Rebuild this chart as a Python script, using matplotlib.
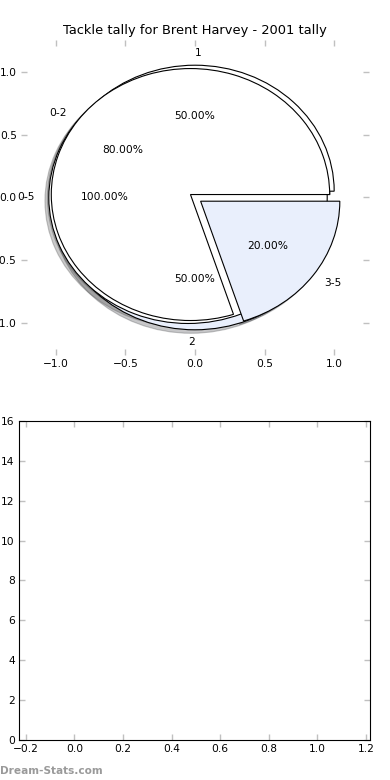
import numpy as np
import matplotlib
matplotlib.use('Agg')
import matplotlib.pyplot as plt

# Tackle breakdowns, one pie each
labels_a = ['1', '2']
values_a = [50, 50]
labels_b = ['0-2', '3-5']
values_b = [80, 20]
labels_c = ['0-5']
values_c = [100]

pie_ticks = [-1.0, -0.5, 0.0, 0.5, 1.0]
bar_yticks = [0, 2, 4, 6, 8, 10, 12, 14, 16]
bar_xticks = [-0.2, 0.0, 0.2, 0.4, 0.6, 0.8, 1.0, 1.2]

title = 'Tackle tally for Brent Harvey - 2001 tally'

plt.rcParams['font.size'] = 7.7
colors = ['white', '#e9effc']
tick_grey = '#c0c0c0'
wedge_style = {'edgecolor': 'black', 'linewidth': 0.8}
shadow_style = {'alpha': 0.3}

fig = plt.figure(figsize=(3.9, 7.8), dpi=100)
ax1 = fig.add_axes([0.0538, 0.5449, 0.8923, 0.4038])
ax2 = fig.add_axes([0.0487, 0.0513, 0.9003, 0.4090])

# Pies drawn on top of each other, last one on top
w, texts_a, pcts_a = ax1.pie(values_a, labels=labels_a, explode=[0.05, 0.05],
                             colors=colors, autopct='%.2f%%',
                             shadow=shadow_style, startangle=0,
                             wedgeprops=wedge_style)
texts_a[0].set_ha('left')
texts_a[1].set_ha('right')
ax1.pie(values_c, labels=labels_c, explode=[0.05], colors=colors,
        autopct='%.2f%%', shadow=shadow_style, startangle=0,
        wedgeprops=wedge_style)
ax1.pie(values_b, labels=labels_b, explode=[0.04, 0.05], colors=colors,
        autopct='%.2f%%', shadow=shadow_style, startangle=0,
        wedgeprops=wedge_style)
ax1.set_aspect('auto')
ax1.set_frame_on(False)
ax1.set_xlim(-1.25, 1.25)
ax1.set_ylim(-1.25, 1.25)
ax1.set_xticks(pie_ticks)
ax1.set_yticks(pie_ticks)
ax1.set_title(title, fontsize=9.4, pad=4)

# Empty bar axes
ax2.set_xlim(-0.228, 1.217)
ax2.set_ylim(0, 16)
ax2.set_xticks(bar_xticks)
ax2.set_yticks(bar_yticks)

for ax in (ax1, ax2):
    ax.tick_params(direction='in', length=4, width=1, color=tick_grey,
                   top=True, right=True, pad=3, labelsize=7.7)

fig.text(0.0, 0.008, 'Dream-Stats.com', fontsize=7.6, fontweight='bold',
         color='#9a9a9a')

fig.savefig('out.png', dpi=100)
